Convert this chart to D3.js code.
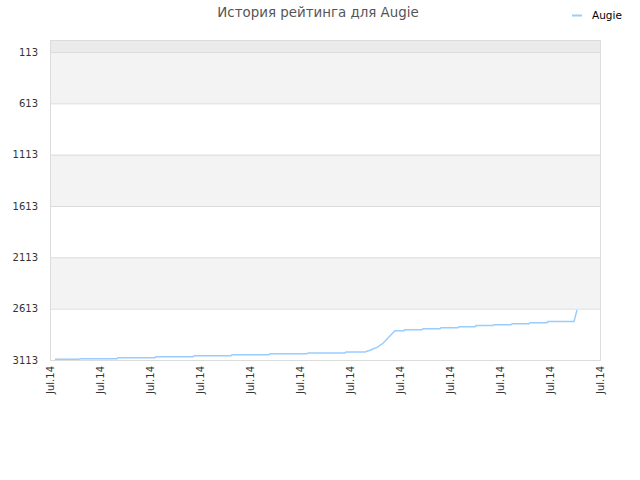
<!DOCTYPE html>
<html><head><meta charset="utf-8">
<script src="https://cdn.jsdelivr.net/npm/d3@7"></script>
<style>body{margin:0;background:#fff}svg{display:block}text{font-family:"DejaVu Sans",Verdana,sans-serif}</style>
</head><body>
<svg id="c" width="640" height="480"></svg>
<script>
const title = "История рейтинга для Augie";
const seriesName = "Augie";
const yTicks = [113, 613, 1113, 1613, 2113, 2613, 3113];
const xTickLabels = ["Jul.14","Jul.14","Jul.14","Jul.14","Jul.14","Jul.14","Jul.14","Jul.14","Jul.14","Jul.14","Jul.14","Jul.14"];
const xPos = [0.1,0.58,0.6,1.34,1.36,2.1,2.12,2.86,2.88,3.62,3.64,4.38,4.4,5.14,5.16,5.9,5.92,6.3,6.4,6.54,6.66,6.9,7.08,7.1,7.44,7.46,7.8,7.82,8.16,8.18,8.5,8.52,8.86,8.88,9.22,9.24,9.58,9.6,9.94,9.96,10.48,10.54];
const rating = [3106,3106,3100,3100,3090,3090,3081,3081,3071,3071,3062,3062,3052,3052,3044,3044,3035,3035,3018,2990,2950,2827,2827,2818,2818,2808,2808,2798,2798,2788,2788,2778,2778,2769,2769,2759,2759,2749,2749,2739,2739,2626];

const svg = d3.select("#c");
const L=50, R=600, T=40, B=360;
const x = d3.scaleLinear().domain([0, xTickLabels.length-1]).range([L, R]);
const y = d3.scaleLinear().domain([113, 3113]).range([52, B]);

// bands
svg.append("rect").attr("x",L).attr("y",T).attr("width",R-L).attr("height",y(113)-T).attr("fill","#ebebeb");
for (let i=0;i<yTicks.length-1;i+=2){
  svg.append("rect").attr("x",L).attr("y",y(yTicks[i])).attr("width",R-L)
    .attr("height",y(yTicks[i+1])-y(yTicks[i])).attr("fill","#f3f3f3");
}
// gridlines
svg.append("g").selectAll("line").data(yTicks).join("line")
  .attr("x1",L).attr("x2",R).attr("y1",d=>y(d)+0.5).attr("y2",d=>y(d)+0.5)
  .attr("stroke","#dcdcdc");
// border
svg.append("rect").attr("x",L+0.5).attr("y",T+0.5).attr("width",R-L).attr("height",B-T)
  .attr("fill","none").attr("stroke","#dcdcdc");

// y axis labels
const yAxis = d3.axisLeft(y).tickValues(yTicks).tickFormat(d3.format("d")).tickSize(0).tickPadding(12);
const gy = svg.append("g").attr("transform",`translate(${L},0)`).call(yAxis);
gy.select(".domain").remove();
gy.selectAll("text").attr("font-size",10).attr("fill","#333").attr("font-family","DejaVu Sans, sans-serif");

// x axis labels
const xAxis = d3.axisBottom(x).tickValues(d3.range(xTickLabels.length)).tickFormat(i=>xTickLabels[i]).tickSize(0);
const gx = svg.append("g").attr("transform",`translate(0,${B})`).call(xAxis);
gx.select(".domain").remove();
gx.selectAll("text").attr("font-size",10).attr("fill","#333").attr("font-family","DejaVu Sans, sans-serif")
  .attr("text-anchor","end").attr("dy","0.35em").attr("transform","translate(0,6) rotate(-90)").attr("x",0).attr("y",0);

// line
const pts = xPos.map((v,i)=>[v, rating[i]]);
svg.append("path").datum(pts)
  .attr("d", d3.line().x(d=>x(d[0])).y(d=>y(d[1])))
  .attr("fill","none").attr("stroke","#99ccff").attr("stroke-width",1.5);

// title
svg.append("text").attr("x",318).attr("y",17).attr("text-anchor","middle")
  .attr("font-size",13.4).attr("fill","#555").text(title);
// legend
svg.append("line").attr("x1",572).attr("x2",582).attr("y1",15.5).attr("y2",15.5).attr("stroke","#99ccff").attr("stroke-width",2);
svg.append("text").attr("x",592).attr("y",19).attr("font-size",10.5).attr("fill","#000").text(seriesName);
</script>
</body></html>
